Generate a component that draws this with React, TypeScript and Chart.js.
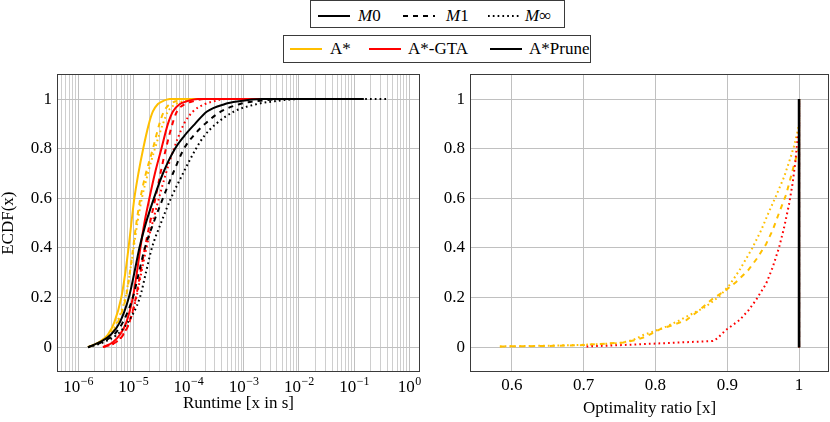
import React, { useEffect, useRef } from "react";
import { Chart, registerables } from "chart.js";

Chart.register(...registerables);

const FONT = "'Liberation Serif', 'Times New Roman', serif";
const GOLD = "#ffbf00";
const RED = "#ff0000";
const BLACK = "#000000";
const GRID_MAJOR = "#c0c0c0";
const GRID_MINOR = "#cecece";
const AXIS = "#3a3a3a";

const DASH_M0: number[] = [];
const DASH_M1 = [5, 5];
const DASH_MINF = [1.7, 3.1];

// ---------- Left plot: runtime ECDF (x in seconds, y = ECDF) ----------
const ECDF_STEPS_A = [0, 0.02, 0.05, 0.1, 0.2, 0.3, 0.4, 0.5, 0.6, 0.7, 0.8, 0.9, 0.95, 0.98, 0.99, 1, 1];
const ECDF_STEPS_P = [0, 0.02, 0.05, 0.1, 0.2, 0.3, 0.4, 0.5, 0.6, 0.7, 0.8, 0.85, 0.9, 0.95, 0.98, 0.99, 1, 1];

const ASTAR_M0_T = [1.518e-6, 2.375e-6, 3.459e-6, 4.539e-6, 6.081e-6, 7.186e-6, 8.216e-6, 9.237e-6, 1.047e-5, 1.238e-5, 1.513e-5, 1.919e-5, 2.269e-5, 2.796e-5, 3.304e-5, 4.615e-5, 1.5e-3];
const ASTAR_M0_P = ECDF_STEPS_A;
const ASTAR_M1_T = [1.518e-6, 2.582e-6, 3.922e-6, 5.254e-6, 7.338e-6, 8.675e-6, 9.958e-6, 1.138e-5, 1.346e-5, 1.693e-5, 2.269e-5, 2.977e-5, 3.593e-5, 4.615e-5, 5.689e-5, 8.641e-5, 3e-3];
const ASTAR_M1_P = ECDF_STEPS_A;
const ASTAR_MINF_T = [1.518e-6, 2.582e-6, 3.761e-6, 5.04e-6, 7.186e-6, 8.675e-6, 1.017e-5, 1.187e-5, 1.432e-5, 1.841e-5, 2.466e-5, 3.445e-5, 4.246e-5, 5.931e-5, 7.621e-5, 1.312e-4, 6e-3];
const ASTAR_MINF_P = ECDF_STEPS_A;

const GTA_M0_T = [2.843e-6, 4.264e-6, 5.713e-6, 7.493e-6, 9.834e-6, 1.162e-5, 1.346e-5, 1.59e-5, 1.96e-5, 2.466e-5, 3.236e-5, 4.246e-5, 5.231e-5, 7.012e-5, 9.009e-5, 1.487e-4, 1.2e-2];
const GTA_M0_P = ECDF_STEPS_A;
const GTA_M1_T = [2.843e-6, 4.833e-6, 6.611e-6, 8.496e-6, 1.115e-5, 1.346e-5, 1.624e-5, 2.001e-5, 2.518e-5, 3.104e-5, 3.905e-5, 5.124e-5, 6.185e-5, 8.641e-5, 1.158e-4, 1.993e-4, 2e-2];
const GTA_M1_P = ECDF_STEPS_A;
const GTA_MINF_T = [2.843e-6, 4.833e-6, 6.475e-6, 8.496e-6, 1.138e-5, 1.403e-5, 1.729e-5, 2.222e-5, 2.915e-5, 3.905e-5, 5.455e-5, 8.286e-5, 1.207e-4, 1.993e-4, 2.783e-4, 4.597e-4, 3e-2];
const GTA_MINF_P = ECDF_STEPS_A;

const PRUNE_M0_T = [1.518e-6, 2.476e-6, 3.922e-6, 5.713e-6, 8.32e-6, 1.047e-5, 1.291e-5, 1.693e-5, 2.366e-5, 3.445e-5, 5.689e-5, 8.286e-5, 1.312e-4, 2.167e-4, 4.597e-4, 7.591e-4, 2.158e-3, 0.15];
const PRUNE_M0_P = ECDF_STEPS_P;
const PRUNE_M1_T = [1.518e-6, 2.692e-6, 4.446e-6, 6.475e-6, 9.834e-6, 1.264e-5, 1.624e-5, 2.317e-5, 3.445e-5, 5.231e-5, 8.286e-5, 1.207e-4, 1.993e-4, 3.888e-4, 8.604e-4, 1.481e-3, 5.641e-3, 0.08];
const PRUNE_M1_P = ECDF_STEPS_P;
const PRUNE_MINF_T = [1.518e-6, 2.927e-6, 5.04e-6, 7.98e-6, 1.318e-5, 1.693e-5, 2.176e-5, 3.17e-5, 4.813e-5, 7.948e-5, 1.368e-4, 1.911e-4, 3.156e-4, 6.696e-4, 1.751e-3, 3.277e-3, 1.056e-2, 0.4];
const PRUNE_MINF_P = ECDF_STEPS_P;

// ---------- Right plot: optimality ratio ECDF ----------
const OPTIMAL_RATIO = [1, 1];
const OPTIMAL_P = [0, 1];
const ASTAR_M1_R = [0.5833, 0.65, 0.695, 0.755, 0.773, 0.787, 0.806, 0.824, 0.843, 0.861, 0.88, 0.896, 0.912, 0.929, 0.942, 0.954, 0.963, 0.972, 0.982, 0.988, 0.994, 0.998, 1, 1];
const ASTAR_M1_RP = [0.003, 0.005, 0.008, 0.019, 0.029, 0.043, 0.072, 0.089, 0.109, 0.149, 0.196, 0.225, 0.262, 0.31, 0.36, 0.415, 0.47, 0.54, 0.615, 0.68, 0.745, 0.785, 0.8, 1];
const ASTAR_MINF_R = [0.5833, 0.65, 0.695, 0.75, 0.769, 0.783, 0.797, 0.815, 0.834, 0.852, 0.87, 0.889, 0.903, 0.917, 0.935, 0.947, 0.958, 0.968, 0.979, 0.986, 0.993, 0.998, 1, 1];
const ASTAR_MINF_RP = [0.003, 0.006, 0.009, 0.016, 0.029, 0.049, 0.063, 0.083, 0.109, 0.136, 0.163, 0.205, 0.25, 0.31, 0.4, 0.47, 0.545, 0.61, 0.685, 0.745, 0.81, 0.87, 0.9, 1];
const GTA_MINF_R = [0.704, 0.75, 0.787, 0.834, 0.88, 0.886, 0.898, 0.917, 0.93, 0.94, 0.954, 0.963, 0.972, 0.979, 0.986, 0.991, 0.995, 0.998, 1, 1];
const GTA_MINF_RP = [0.003, 0.008, 0.013, 0.019, 0.025, 0.035, 0.069, 0.109, 0.15, 0.19, 0.255, 0.32, 0.4, 0.48, 0.575, 0.66, 0.75, 0.845, 0.87, 1];

// ---------- Axes ----------
const RUNTIME_MIN = 4.16e-7;
const RUNTIME_MAX = 1.56;
const RUNTIME_DECADES = [1e-6, 1e-5, 1e-4, 1e-3, 1e-2, 1e-1, 1];
const RUNTIME_EXPONENTS = ["\u22126", "\u22125", "\u22124", "\u22123", "\u22122", "\u22121", "0"];
const ECDF_MIN = -0.1;
const ECDF_MAX = 1.1;
const ECDF_TICKS = [0, 0.2, 0.4, 0.6, 0.8, 1];
const ECDF_TICK_LABELS = ["0", "0.2", "0.4", "0.6", "0.8", "1"];
const RATIO_MIN = 0.5417;
const RATIO_MAX = 1.0417;
const RATIO_TICKS = [0.6, 0.7, 0.8, 0.9, 1];
const RATIO_TICK_LABELS = ["0.6", "0.7", "0.8", "0.9", "1"];

type Series = { color: string; dash: number[]; x: number[]; y: number[]; width?: number };

// Dataset 0 is drawn last (on top) in Chart.js
const RUNTIME_SERIES: Series[] = [
  { color: BLACK, dash: DASH_M0, x: PRUNE_M0_T, y: PRUNE_M0_P },
  { color: BLACK, dash: DASH_M1, x: PRUNE_M1_T, y: PRUNE_M1_P },
  { color: BLACK, dash: DASH_MINF, x: PRUNE_MINF_T, y: PRUNE_MINF_P },
  { color: RED, dash: DASH_M0, x: GTA_M0_T, y: GTA_M0_P },
  { color: RED, dash: DASH_M1, x: GTA_M1_T, y: GTA_M1_P },
  { color: RED, dash: DASH_MINF, x: GTA_MINF_T, y: GTA_MINF_P },
  { color: GOLD, dash: DASH_M0, x: ASTAR_M0_T, y: ASTAR_M0_P },
  { color: GOLD, dash: DASH_M1, x: ASTAR_M1_T, y: ASTAR_M1_P },
  { color: GOLD, dash: DASH_MINF, x: ASTAR_MINF_T, y: ASTAR_MINF_P },
];

const RATIO_SERIES: Series[] = [
  { color: BLACK, dash: DASH_M0, x: OPTIMAL_RATIO, y: OPTIMAL_P, width: 2.6 },
  { color: BLACK, dash: DASH_M1, x: OPTIMAL_RATIO, y: OPTIMAL_P },
  { color: BLACK, dash: DASH_MINF, x: OPTIMAL_RATIO, y: OPTIMAL_P },
  { color: RED, dash: DASH_M0, x: OPTIMAL_RATIO, y: OPTIMAL_P },
  { color: RED, dash: DASH_M1, x: OPTIMAL_RATIO, y: OPTIMAL_P },
  { color: RED, dash: DASH_MINF, x: GTA_MINF_R, y: GTA_MINF_RP },
  { color: GOLD, dash: DASH_M0, x: OPTIMAL_RATIO, y: OPTIMAL_P },
  { color: GOLD, dash: DASH_M1, x: ASTAR_M1_R, y: ASTAR_M1_RP },
  { color: GOLD, dash: DASH_MINF, x: ASTAR_MINF_R, y: ASTAR_MINF_RP },
];

const isDecade = (v: number) => {
  const l = Math.log10(v);
  return Math.abs(l - Math.round(l)) < 1e-6;
};

const logGridValues = () => {
  const vals: number[] = [];
  for (let e = -7; e <= 0; e++) {
    for (let d = 1; d <= 9; d++) {
      const v = d * Math.pow(10, e);
      if (v >= RUNTIME_MIN && v <= RUNTIME_MAX) vals.push(v);
    }
  }
  return vals;
};

const framePlugin = {
  id: "frame",
  afterDraw(chart: any) {
    const { ctx, chartArea: a } = chart;
    ctx.save();
    ctx.strokeStyle = AXIS;
    ctx.lineWidth = 1;
    ctx.strokeRect(Math.round(a.left) + 0.5, Math.round(a.top) + 0.5, Math.round(a.right - a.left) - 1, Math.round(a.bottom - a.top) - 1);
    ctx.restore();
  },
};

const logLabelPlugin = {
  id: "logLabels",
  afterDraw(chart: any) {
    const xs = chart.scales.x;
    const ctx = chart.ctx;
    ctx.save();
    ctx.fillStyle = "#000";
    ctx.textBaseline = "alphabetic";
    ctx.textAlign = "left";
    RUNTIME_DECADES.forEach((v, i) => {
      const px = xs.getPixelForValue(v);
      ctx.font = `17px ${FONT}`;
      const w1 = ctx.measureText("10").width;
      ctx.font = `12px ${FONT}`;
      const exp = RUNTIME_EXPONENTS[i];
      const w2 = ctx.measureText(exp).width;
      const x0 = px - (w1 + w2) / 2;
      ctx.font = `17px ${FONT}`;
      ctx.fillText("10", x0, xs.top + 20);
      ctx.font = `12px ${FONT}`;
      ctx.fillText(exp, x0 + w1 + 0.5, xs.top + 13);
    });
    ctx.restore();
  },
};

const toDatasets = (series: Series[], smooth: boolean) =>
  series.map((s) => ({
    data: s.x.map((x, i) => ({ x, y: s.y[i] })),
    borderColor: s.color,
    backgroundColor: s.color,
    borderDash: s.dash,
    borderWidth: s.width ?? 2,
    borderCapStyle: "butt",
    pointRadius: 0,
    fill: false,
    cubicInterpolationMode: smooth ? "monotone" : "default",
    tension: 0,
  }));

const yAxis = (width: number, withTitle: boolean) => ({
  type: "linear",
  min: ECDF_MIN,
  max: ECDF_MAX,
  afterBuildTicks: (s: any) => {
    s.ticks = ECDF_TICKS.map((v) => ({ value: v }));
  },
  afterFit: (s: any) => {
    s.width = width;
  },
  ticks: {
    callback: (v: number) => ECDF_TICK_LABELS[ECDF_TICKS.findIndex((t) => Math.abs(t - v) < 1e-9)],
    font: { family: FONT, size: 17, lineHeight: 0.5 },
    color: "#000",
    padding: 5,
  },
  grid: { color: GRID_MAJOR, lineWidth: 1, drawTicks: false },
  border: { display: false },
  title: {
    display: withTitle,
    text: "ECDF(x)",
    font: { family: FONT, size: 17, lineHeight: 1 },
    color: "#000",
    padding: { top: 0, bottom: 0 },
  },
});

function RuntimeChart() {
  const ref = useRef<HTMLCanvasElement>(null);
  useEffect(() => {
    const chart = new Chart(ref.current as HTMLCanvasElement, {
      type: "line",
      data: { datasets: toDatasets(RUNTIME_SERIES, true) as any },
      options: {
        responsive: false,
        animation: false,
        layout: { padding: { top: 8, right: 5, left: 0, bottom: 0 } },
        plugins: { legend: { display: false }, tooltip: { enabled: false } },
        scales: {
          x: {
            type: "logarithmic",
            min: RUNTIME_MIN,
            max: RUNTIME_MAX,
            afterBuildTicks: (s: any) => {
              s.ticks = logGridValues().map((v) => ({ value: v, major: isDecade(v) }));
            },
            afterFit: (s: any) => {
              s.height = 50;
            },
            ticks: { display: false, autoSkip: false },
            grid: {
              color: (c: any) => (c.tick && isDecade(c.tick.value) ? GRID_MAJOR : GRID_MINOR),
              lineWidth: 1,
              drawTicks: false,
            },
            border: { display: false },
            title: {
              display: true,
              text: "Runtime [x in s]",
              font: { family: FONT, size: 17, lineHeight: 1 },
              color: "#000",
              padding: { top: 0, bottom: 10 },
            },
          },
          y: yAxis(57, true),
        },
      } as any,
      plugins: [framePlugin, logLabelPlugin],
    });
    return () => chart.destroy();
  }, []);
  return <canvas ref={ref} width={425} height={357} style={{ position: "absolute", left: 0, top: 65, width: 425, height: 357 }} />;
}

function RatioChart() {
  const ref = useRef<HTMLCanvasElement>(null);
  useEffect(() => {
    const chart = new Chart(ref.current as HTMLCanvasElement, {
      type: "line",
      data: { datasets: toDatasets(RATIO_SERIES, false) as any },
      options: {
        responsive: false,
        animation: false,
        layout: { padding: { top: 8, right: 1, left: 0, bottom: 0 } },
        plugins: { legend: { display: false }, tooltip: { enabled: false } },
        scales: {
          x: {
            type: "linear",
            min: RATIO_MIN,
            max: RATIO_MAX,
            afterBuildTicks: (s: any) => {
              s.ticks = RATIO_TICKS.map((v) => ({ value: v }));
            },
            afterFit: (s: any) => {
              s.height = 50;
            },
            ticks: {
              autoSkip: false,
              maxRotation: 0,
              callback: (v: number) => RATIO_TICK_LABELS[RATIO_TICKS.findIndex((t) => Math.abs(t - v) < 1e-9)],
              font: { family: FONT, size: 17 },
              color: "#000",
              padding: 3,
            },
            grid: { color: GRID_MAJOR, lineWidth: 1, drawTicks: false },
            border: { display: false },
            title: {
              display: true,
              text: "Optimality ratio [x]",
              font: { family: FONT, size: 17, lineHeight: 1 },
              color: "#000",
              padding: { top: 0, bottom: 5 },
            },
          },
          y: yAxis(45, false),
        },
      } as any,
      plugins: [framePlugin],
    });
    return () => chart.destroy();
  }, []);
  return <canvas ref={ref} width={405} height={357} style={{ position: "absolute", left: 425, top: 65, width: 405, height: 357 }} />;
}

function Sample({ left, color, dash }: { left: number; color: string; dash: number[] }) {
  return (
    <svg width={32} height={6} style={{ position: "absolute", left, top: "50%", marginTop: -3 }}>
      <line x1={0} y1={3} x2={32} y2={3} stroke={color} strokeWidth={2} strokeDasharray={dash.length ? dash.join(" ") : undefined} />
    </svg>
  );
}

function Label({ left, children }: { left: number; children: React.ReactNode }) {
  return (
    <span style={{ position: "absolute", left, top: 0, height: "100%", display: "flex", alignItems: "center", fontSize: 17, whiteSpace: "nowrap", color: "#000" }}>
      {children}
    </span>
  );
}

export default function App() {
  return (
    <div style={{ position: "fixed", left: 0, top: 0, width: 830, height: 422, background: "#fff", fontFamily: FONT, overflow: "hidden" }}>
      {/* Legend 1: metrics */}
      <div style={{ position: "absolute", left: 310, top: 0, width: 255, height: 28, border: `1px solid ${AXIS}`, boxSizing: "border-box" }} />
      <div style={{ position: "absolute", left: 0, top: 2, width: 830, height: 27 }}>
        <Sample left={318} color={BLACK} dash={DASH_M0} />
        <Label left={358}><i>M</i>0</Label>
        <Sample left={403} color={BLACK} dash={DASH_M1} />
        <Label left={446}><i>M</i>1</Label>
        <Sample left={488} color={BLACK} dash={DASH_MINF} />
        <Label left={525}><i>M</i>∞</Label>
      </div>
      {/* Legend 2: algorithms */}
      <div style={{ position: "absolute", left: 283, top: 35, width: 308, height: 28, border: `1px solid ${AXIS}`, boxSizing: "border-box" }} />
      <div style={{ position: "absolute", left: 0, top: 35, width: 830, height: 28 }}>
        <Sample left={290} color={GOLD} dash={DASH_M0} />
        <Label left={330}>A*</Label>
        <Sample left={369} color={RED} dash={DASH_M0} />
        <Label left={408}>A*-GTA</Label>
        <Sample left={490} color={BLACK} dash={DASH_M0} />
        <Label left={529}>A*Prune</Label>
      </div>
      <RuntimeChart />
      <RatioChart />
    </div>
  );
}
